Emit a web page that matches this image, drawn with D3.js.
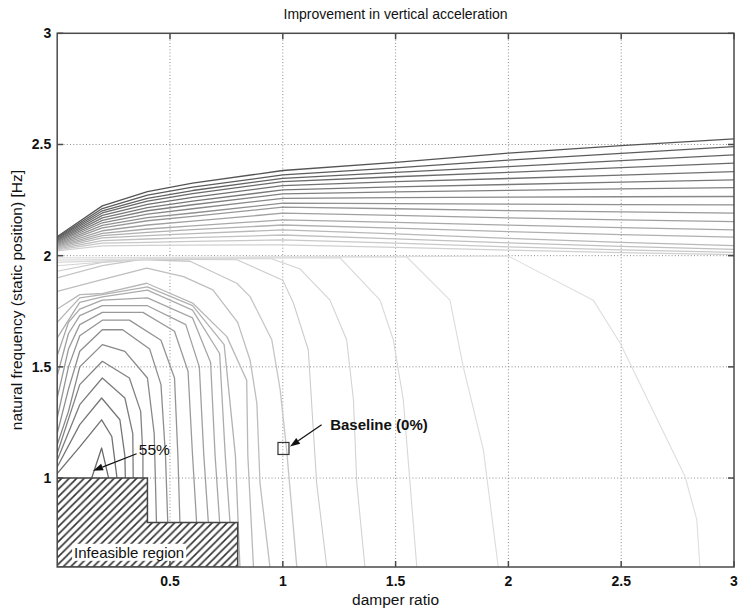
<!DOCTYPE html>
<html>
<head>
<meta charset="utf-8">
<script src="https://cdn.jsdelivr.net/npm/d3@7/dist/d3.min.js"></script>
<style>
  body { margin: 0; background: #fff; }
  svg { display: block; }
  text { font-family: "Liberation Sans", Arial, Helvetica, sans-serif; fill: #111; }
</style>
</head>
<body>
<svg id="chart" width="740" height="613"></svg>
<script>
// ---- tick values ----
const xTicks = [0.5, 1, 1.5, 2, 2.5, 3];
const yTicks = [1, 1.5, 2, 2.5, 3];

// ---- upper contour family: natural frequency at each damper-ratio node ----
const bandX = [0, 0.2, 0.4, 0.6, 1.0, 1.5, 2.0, 2.5, 3.0];
const bandLines = [
  [2.086, 2.224, 2.288, 2.326, 2.383, 2.420, 2.461, 2.495, 2.525],
  [2.082, 2.212, 2.272, 2.308, 2.363, 2.395, 2.430, 2.460, 2.490],
  [2.078, 2.202, 2.258, 2.293, 2.348, 2.375, 2.400, 2.427, 2.453],
  [2.074, 2.192, 2.245, 2.279, 2.333, 2.355, 2.375, 2.396, 2.416],
  [2.070, 2.181, 2.231, 2.262, 2.315, 2.333, 2.347, 2.362, 2.378],
  [2.066, 2.170, 2.216, 2.245, 2.296, 2.309, 2.320, 2.331, 2.341],
  [2.062, 2.159, 2.202, 2.229, 2.278, 2.287, 2.294, 2.300, 2.306],
  [2.058, 2.148, 2.187, 2.211, 2.258, 2.261, 2.263, 2.265, 2.266],
  [2.054, 2.136, 2.171, 2.192, 2.236, 2.234, 2.232, 2.230, 2.228],
  [2.050, 2.125, 2.157, 2.177, 2.218, 2.211, 2.203, 2.197, 2.191],
  [2.046, 2.112, 2.138, 2.155, 2.191, 2.181, 2.170, 2.161, 2.153],
  [2.042, 2.100, 2.120, 2.134, 2.161, 2.150, 2.137, 2.126, 2.116],
  [2.038, 2.090, 2.105, 2.117, 2.138, 2.124, 2.108, 2.095, 2.083],
  [2.034, 2.080, 2.090, 2.099, 2.116, 2.098, 2.078, 2.060, 2.045],
  [2.030, 2.068, 2.075, 2.081, 2.093, 2.076, 2.058, 2.042, 2.028],
  [2.026, 2.056, 2.060, 2.064, 2.071, 2.056, 2.040, 2.026, 2.015],
  [2.022, 2.044, 2.046, 2.047, 2.049, 2.037, 2.025, 2.014, 2.005]
];
const bandShades = ["#555", "#5c5c5c", "#636363", "#6a6a6a", "#717171", "#787878", "#808080",
  "#888", "#909090", "#989898", "#a0a0a0", "#a8a8a8", "#b0b0b0", "#b8b8b8", "#c0c0c0", "#c8c8c8", "#d0d0d0"];

// ---- lower contour family around the optimum: [damper ratio, frequency] ----
const lowerContours = [
  [[0.153,1.0],[0.197,1.135],[0.228,1.0]],
  [[0,1.02],[0.1,1.14],[0.197,1.262],[0.242,1.187],[0.265,1.0]],
  [[0,1.05],[0.1,1.24],[0.197,1.36],[0.278,1.262],[0.30,1.1],[0.302,1.0]],
  [[0,1.08],[0.1,1.33],[0.2,1.45],[0.3,1.36],[0.335,1.2],[0.337,1.0]],
  [[0,1.11],[0.1,1.42],[0.2,1.525],[0.32,1.45],[0.37,1.3],[0.38,1.1],[0.38,1.0]],
  [[0,1.15],[0.05,1.3],[0.1,1.5],[0.2,1.60],[0.3,1.57],[0.4,1.45],[0.43,1.2],[0.435,1.0],[0.44,0.8]],
  [[0,1.2],[0.05,1.4],[0.1,1.57],[0.2,1.667],[0.29,1.667],[0.41,1.58],[0.46,1.42],[0.48,1.1],[0.49,0.8]],
  [[0,1.27],[0.05,1.5],[0.1,1.64],[0.2,1.71],[0.32,1.71],[0.46,1.62],[0.52,1.45],[0.535,1.1],[0.544,0.8]],
  [[0,1.36],[0.05,1.58],[0.1,1.69],[0.2,1.745],[0.38,1.745],[0.52,1.66],[0.58,1.48],[0.6,1.1],[0.618,0.8]],
  [[0,1.46],[0.05,1.65],[0.1,1.73],[0.2,1.775],[0.4,1.775],[0.57,1.69],[0.63,1.5],[0.65,1.1],[0.67,0.8]],
  [[0,1.55],[0.05,1.7],[0.1,1.76],[0.2,1.80],[0.4,1.81],[0.6,1.72],[0.68,1.52],[0.70,1.1],[0.72,0.8]],
  [[0,1.63],[0.1,1.79],[0.2,1.815],[0.4,1.845],[0.6,1.755],[0.72,1.56],[0.745,1.1],[0.766,0.8]],
  [[0,1.70],[0.1,1.81],[0.2,1.825],[0.4,1.86],[0.6,1.775],[0.74,1.6],[0.79,1.1],[0.81,0.6]],
  [[0,1.76],[0.1,1.825],[0.203,1.83],[0.397,1.876],[0.6,1.787],[0.752,1.636],[0.84,1.44],[0.845,1.1],[0.87,0.6]],
  [[0,1.84],[0.19,1.89],[0.397,1.944],[0.56,1.906],[0.69,1.846],[0.8,1.70],[0.855,1.53],[0.885,1.337],[0.899,0.977],[0.943,0.6]],
  [[0,1.9],[0.2,1.955],[0.367,1.982],[0.589,1.975],[0.796,1.876],[0.855,1.816],[0.951,1.622],[0.988,1.40],[1.017,1.127],[1.062,0.6]],
  [[0,1.93],[0.2,1.97],[0.4,1.984],[0.796,1.982],[1.0,1.89],[1.047,1.787],[1.113,1.577],[1.15,0.977],[1.195,0.6]],
  [[0,1.955],[0.4,1.987],[0.95,1.986],[1.077,1.94],[1.209,1.80],[1.283,1.622],[1.313,1.353],[1.328,0.977],[1.364,0.6]],
  [[0,1.97],[0.6,1.99],[1.254,1.99],[1.431,1.80],[1.49,1.622],[1.534,1.353],[1.564,0.977],[1.594,0.6]],
  [[0,1.98],[1.0,1.994],[1.55,1.994],[1.741,1.8],[1.80,1.50],[1.889,1.127],[1.955,0.6]],
  [[0,1.99],[2.0,1.998],[2.376,1.80],[2.495,1.607],[2.783,1.007],[2.835,0.813],[2.849,0.6]]
];
const lowerShades = ["#6a6a6a", "#707070", "#767676", "#7c7c7c", "#828282", "#888", "#8e8e8e",
  "#949494", "#9a9a9a", "#a0a0a0", "#a6a6a6", "#acacac", "#b2b2b2", "#b8b8b8", "#bebebe",
  "#c6c6c6", "#cccccc", "#d3d3d3", "#d8d8d8", "#dcdcdc", "#dedede"];

// ---- infeasible corner (damper ratio, frequency) ----
const infeasible = [[0,0.6],[0,1],[0.4,1],[0.4,0.8],[0.8,0.8],[0.8,0.6]];

// ---- annotations ----
const baseline = { x: 1.003, y: 1.133 };
const baselineNote = { text: "Baseline (0%)", tx: 1.21, ty: 1.24, from: [1.172, 1.24], to: [1.032, 1.142] };
const peakNote = { text: "55%", tx: 0.362, ty: 1.112, from: [0.352, 1.109], to: [0.159, 1.033] };
const infeasibleLabel = { text: "Infeasible region", tx: 0.075, ty: 0.665 };

// ---- layout ----
const svg = d3.select("#chart");
const mLeft = 57.2, mRight = 734, mTop = 33.3, mBottom = 567;
const x = d3.scaleLinear().domain([0, 3]).range([mLeft, mRight]);
const y = d3.scaleLinear().domain([0.6, 3]).range([mBottom, mTop]);

const defs = svg.append("defs");
defs.append("clipPath").attr("id", "plotClip")
  .append("rect").attr("x", mLeft).attr("y", mTop).attr("width", mRight - mLeft).attr("height", mBottom - mTop);
const hatch = defs.append("pattern").attr("id", "hatch").attr("patternUnits", "userSpaceOnUse")
  .attr("width", 7.5).attr("height", 7.5);
hatch.append("path").attr("d", "M-2,9.5 L9.5,-2 M-2,2 L2,-2 M5.5,9.5 L9.5,5.5")
  .attr("stroke", "#333").attr("stroke-width", 1.6);

// grid
const grid = svg.append("g");
grid.selectAll(".gx").data(xTicks.filter(d => d < 3)).join("line")
  .attr("x1", d => x(d)).attr("x2", d => x(d)).attr("y1", mTop).attr("y2", mBottom)
  .attr("stroke", "#8c8c8c").attr("stroke-width", 1).attr("stroke-dasharray", "1,2.2");
grid.selectAll(".gy").data(yTicks.filter(d => d < 3)).join("line")
  .attr("y1", d => y(d)).attr("y2", d => y(d)).attr("x1", mLeft).attr("x2", mRight)
  .attr("stroke", "#8c8c8c").attr("stroke-width", 1).attr("stroke-dasharray", "1,2.2");

const plot = svg.append("g").attr("clip-path", "url(#plotClip)");
const line = d3.line().x(d => x(d[0])).y(d => y(d[1]));

// lower contours
plot.selectAll(".low").data(lowerContours).join("path")
  .attr("d", line).attr("fill", "none")
  .attr("stroke", (d, i) => lowerShades[i]).attr("stroke-width", (d, i) => i > 15 ? 1.1 : 1.3)
  .attr("stroke-linejoin", "round");

// upper contours
plot.selectAll(".band").data(bandLines).join("path")
  .attr("d", d => line(d.map((v, i) => [bandX[i], v]))).attr("fill", "none")
  .attr("stroke", (d, i) => bandShades[i]).attr("stroke-width", 1.3)
  .attr("stroke-linejoin", "round");

// infeasible region
plot.append("path").attr("d", line(infeasible) + "Z")
  .attr("fill", "#fff").attr("stroke", "none");
plot.append("path").attr("d", line(infeasible) + "Z")
  .attr("fill", "url(#hatch)").attr("stroke", "#444").attr("stroke-width", 1.5);

const lab = svg.append("text").attr("x", x(infeasibleLabel.tx)).attr("y", y(infeasibleLabel.ty))
  .attr("dy", "0.35em").attr("font-size", 15).text(infeasibleLabel.text);
const bb = lab.node().getBBox();
svg.insert("rect", () => lab.node()).attr("x", bb.x - 2).attr("y", bb.y).attr("width", bb.width + 4)
  .attr("height", bb.height).attr("fill", "#fff");

// frame and ticks
svg.append("rect").attr("x", mLeft).attr("y", mTop).attr("width", mRight - mLeft).attr("height", mBottom - mTop)
  .attr("fill", "none").attr("stroke", "#4a4a4a").attr("stroke-width", 1.5);
const tk = svg.append("g").attr("stroke", "#4a4a4a").attr("stroke-width", 1.5);
xTicks.forEach(t => {
  tk.append("line").attr("x1", x(t)).attr("x2", x(t)).attr("y1", mBottom).attr("y2", mBottom - 6);
  tk.append("line").attr("x1", x(t)).attr("x2", x(t)).attr("y1", mTop).attr("y2", mTop + 6);
});
yTicks.forEach(t => {
  tk.append("line").attr("y1", y(t)).attr("y2", y(t)).attr("x1", mLeft).attr("x2", mLeft + 6);
  tk.append("line").attr("y1", y(t)).attr("y2", y(t)).attr("x1", mRight).attr("x2", mRight - 6);
});

svg.selectAll(".xl").data(xTicks).join("text")
  .attr("x", d => x(d)).attr("y", mBottom + 19).attr("text-anchor", "middle")
  .attr("font-size", 14).attr("font-weight", "bold").attr("fill", "#222").text(d => d);
svg.selectAll(".yl").data(yTicks).join("text")
  .attr("x", mLeft - 6).attr("y", d => y(d)).attr("dy", "0.35em").attr("text-anchor", "end")
  .attr("font-size", 14).attr("font-weight", "bold").attr("fill", "#222").text(d => d);

// titles
svg.append("text").attr("x", (mLeft + mRight) / 2).attr("y", 19).attr("text-anchor", "middle")
  .attr("font-size", 14).text("Improvement in vertical acceleration");
svg.append("text").attr("x", (mLeft + mRight) / 2).attr("y", 605).attr("text-anchor", "middle")
  .attr("font-size", 15.5).text("damper ratio");
svg.append("text").attr("transform", `translate(22,${(mTop + mBottom) / 2}) rotate(-90)`)
  .attr("text-anchor", "middle").attr("font-size", 15.5)
  .text("natural frequency (static position) [Hz]");

// baseline marker
svg.append("rect").attr("x", x(baseline.x) - 5.5).attr("y", y(baseline.y) - 6)
  .attr("width", 11).attr("height", 12).attr("fill", "none").attr("stroke", "#333").attr("stroke-width", 1.2);

function arrow(note) {
  const x0 = x(note.from[0]), y0 = y(note.from[1]), x1 = x(note.to[0]), y1 = y(note.to[1]);
  const a = Math.atan2(y1 - y0, x1 - x0), L = 10, W = 3.5;
  const bx = x1 - L * Math.cos(a), by = y1 - L * Math.sin(a);
  svg.append("line").attr("x1", x0).attr("y1", y0).attr("x2", bx).attr("y2", by)
    .attr("stroke", "#111").attr("stroke-width", 1.2);
  svg.append("path").attr("d", `M${x1},${y1}L${bx - W * Math.sin(a)},${by + W * Math.cos(a)}L${bx + W * Math.sin(a)},${by - W * Math.cos(a)}Z`)
    .attr("fill", "#111");
}
arrow(peakNote);
arrow(baselineNote);
svg.append("text").attr("x", x(peakNote.tx)).attr("y", y(peakNote.ty)).attr("dy", "0.1em")
  .attr("font-size", 15.5).text(peakNote.text);
svg.append("text").attr("x", x(baselineNote.tx)).attr("y", y(baselineNote.ty)).attr("dy", "0.35em")
  .attr("font-size", 15).attr("font-weight", "bold").text(baselineNote.text);
</script>
</body>
</html>
